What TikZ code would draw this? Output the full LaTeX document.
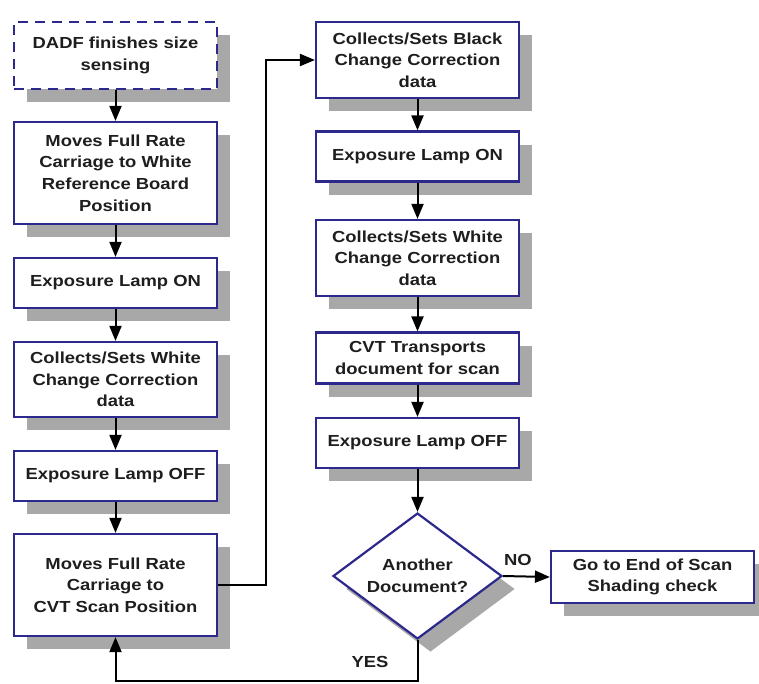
\documentclass[tikz,border=0pt]{standalone}
\usepackage{fontspec}
\setmainfont{Liberation Sans}[FakeStretch=1.15]
\usetikzlibrary{arrows.meta,shapes.geometric,shadows}

\definecolor{boxline}{RGB}{45,40,140}
\definecolor{shade}{RGB}{168,168,168}
\definecolor{ink}{RGB}{30,30,30}

\tikzset{
  flowbox/.style={draw=boxline, line width=2.2pt, fill=white, align=center,
    inner sep=0pt, text=ink, font=\bfseries\fontsize{16}{21.7}\selectfont,
    drop shadow={shadow xshift=13pt, shadow yshift=-13pt, fill=shade, opacity=1}},
  leftbox/.style={flowbox, minimum width=203pt},
  rightbox/.style={flowbox, minimum width=203pt},
  startbox/.style={leftbox, dashed, dash pattern=on 10pt off 7pt},
  decision/.style={diamond, aspect=1.34, draw=boxline, line width=2.2pt,
    fill=white, align=center, inner sep=0pt, text=ink,
    minimum width=169pt, minimum height=126pt,
    font=\bfseries\fontsize{16}{21.7}\selectfont,
    drop shadow={shadow xshift=13pt, shadow yshift=-13pt, fill=shade, opacity=1}},
  flow/.style={draw=black, line width=2pt, -{Triangle[length=15pt,width=12pt]}},
  tag/.style={text=ink, font=\bfseries\fontsize{16}{18}\selectfont}
}

\begin{document}
\begin{tikzpicture}[x=1pt,y=-1pt]
\useasboundingbox (0,0) rectangle (759,683);

% left column
\node[startbox, minimum height=67pt]  (b1) at (115.5,55.5) {DADF finishes size\\sensing};
\node[leftbox,  minimum height=102pt] (b2) at (115.5,173)  {Moves Full Rate\\Carriage to White\\Reference Board\\Position};
\node[leftbox,  minimum height=50pt]  (b3) at (115.5,283)  {Exposure Lamp ON};
\node[leftbox,  minimum height=75pt]  (b4) at (115.5,379.5){Collects/Sets White\\Change Correction\\data};
\node[leftbox,  minimum height=50pt]  (b5) at (115.5,476)  {Exposure Lamp OFF};
\node[leftbox,  minimum height=102pt] (b6) at (115.5,585)  {Moves Full Rate\\Carriage to\\CVT Scan Position};

% right column
\node[rightbox, minimum height=76pt] (r1) at (417.5,60)  {Collects/Sets Black\\Change Correction\\data};
\node[rightbox, minimum height=50pt] (r2) at (417.5,156.5){Exposure Lamp ON};
\node[rightbox, minimum height=76pt] (r3) at (417.5,258) {Collects/Sets White\\Change Correction\\data};
\node[rightbox, minimum height=51pt] (r4) at (417.5,358) {CVT Transports\\document for scan};
\node[rightbox, minimum height=50pt] (r5) at (417.5,443) {Exposure Lamp OFF};

% decision and exit
\node[decision] (q) at (417.5,576) {Another\\Document?};
\node[flowbox, minimum width=203pt, minimum height=52pt] (end) at (652.5,577) {Go to End of Scan\\Shading check};

% connectors
\draw[flow] (b1) -- (b2);
\draw[flow] (b2) -- (b3);
\draw[flow] (b3) -- (b4);
\draw[flow] (b4) -- (b5);
\draw[flow] (b5) -- (b6);
\coordinate (up) at (266,585);
\draw[flow] (b6.east) -- (up) |- (r1.west);
\draw[flow] (r1) -- (r2);
\draw[flow] (r2) -- (r3);
\draw[flow] (r3) -- (r4);
\draw[flow] (r4) -- (r5);
\draw[flow] (r5) -- (q);
\draw[flow] (q.east) -- (end.west);
\coordinate (loop) at (417.5,681);
\draw[flow] (q.south) -- (loop) -| (b6.south);

% branch labels
\node[tag] (no)  at (518,560) {NO};
\node[tag] (yes) at (370,662) {YES};
\end{tikzpicture}
\end{document}
